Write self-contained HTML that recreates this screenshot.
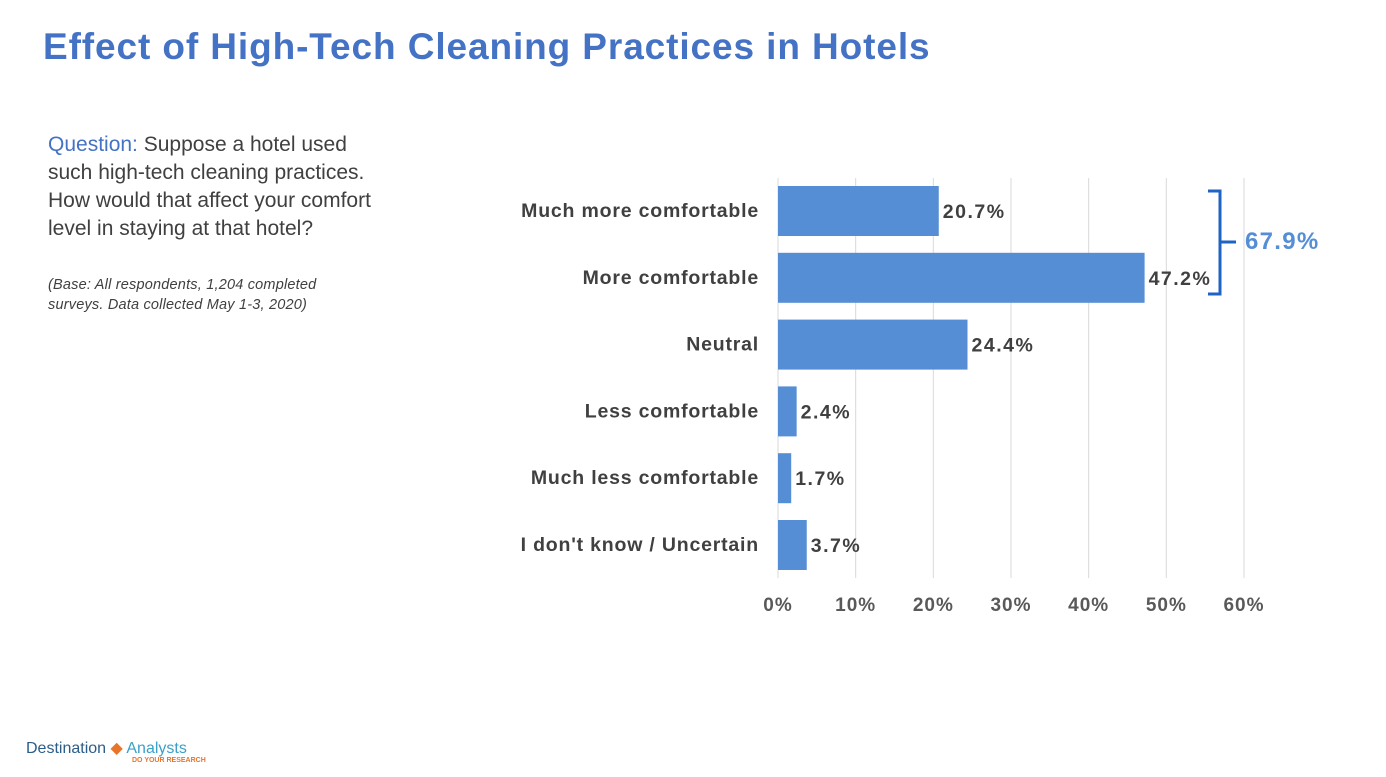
<!DOCTYPE html>
<html><head><meta charset="utf-8"><style>
body{margin:0;width:1386px;height:777px;background:#fff;overflow:hidden;font-family:"Liberation Sans",sans-serif;position:relative}
#title{position:absolute;left:43px;top:26px;font-size:37px;font-weight:bold;color:#4472c4;letter-spacing:0.9px;white-space:nowrap}
#q{position:absolute;left:48px;top:131px;width:420px;font-size:21px;line-height:28px;color:#404040;white-space:nowrap}
#base{position:absolute;left:48px;top:275px;width:300px;font-size:14.5px;line-height:20px;font-style:italic;color:#404040;letter-spacing:0.2px}
</style></head><body>
<div id="title">Effect of High-Tech Cleaning Practices in Hotels</div>
<div id="q"><span style="color:#4472c4">Question:</span> Suppose a hotel used<br>such high-tech cleaning practices.<br>How would that affect your comfort<br>level in staying at that hotel?</div>
<div id="base">(Base: All respondents, 1,204 completed surveys. Data collected May 1-3, 2020)</div>
<svg id="chart" width="1386" height="777" style="position:absolute;left:0;top:0"></svg>
<div style="position:absolute;left:26px;top:738px;font-size:16px;color:#2a5d8a">Destination <span style="color:#e8742c">◆</span> <span style="color:#3aa0c8">Analysts</span><div style="position:absolute;left:106px;top:19px;font-size:7px;font-weight:bold;color:#e8742c;white-space:nowrap">DO YOUR RESEARCH</div></div>
<script>
const categories=["Much more comfortable","More comfortable","Neutral","Less comfortable","Much less comfortable","I don't know / Uncertain"];
const values=[20.7,47.2,24.4,2.4,1.7,3.7];
const ticks=[0,10,20,30,40,50,60];
const svg=document.getElementById('chart');const NS='http://www.w3.org/2000/svg';
const x=v=>778+v*(1244-778)/60;
const y=i=>186+i*66.8;
function mk(t,a){const e=document.createElementNS(NS,t);for(const k in a)e.setAttribute(k,a[k]);svg.appendChild(e);return e;}
ticks.forEach(t=>{const l=mk('line',{x1:x(t),x2:x(t),y1:178,y2:578,stroke:'#d9d9d9','stroke-width':1});


const tx=mk('text',{x:x(t),y:611,'text-anchor':'middle','font-size':19,'font-weight':'bold',fill:'#595959','letter-spacing':1});tx.textContent=t+'%';

});
categories.forEach((c,i)=>{const r=mk('rect',{x:x(0),y:y(i),width:x(values[i])-x(0),height:50,fill:'#558ed5'});


const l=mk('text',{x:759,y:y(i)+31,'text-anchor':'end','font-size':19.5,'font-weight':'bold',fill:'#404040','letter-spacing':0.8});l.textContent=c;


const v=mk('text',{x:x(values[i])+4,y:y(i)+32,'font-size':19.5,'font-weight':'bold',fill:'#404040','letter-spacing':1.5});v.textContent=values[i].toFixed(1)+'%';

});
const b=mk('path',{d:'M1208 191 H1220 V242 H1236 M1220 242 V294 H1208',fill:'none',stroke:'#1f63c4','stroke-width':3});


const s=mk('text',{x:1245,y:249,'font-size':24,'font-weight':'bold',fill:'#558ed5','letter-spacing':1.3});s.textContent=(values[0]+values[1]).toFixed(1)+'%';


</script>
</body></html>
